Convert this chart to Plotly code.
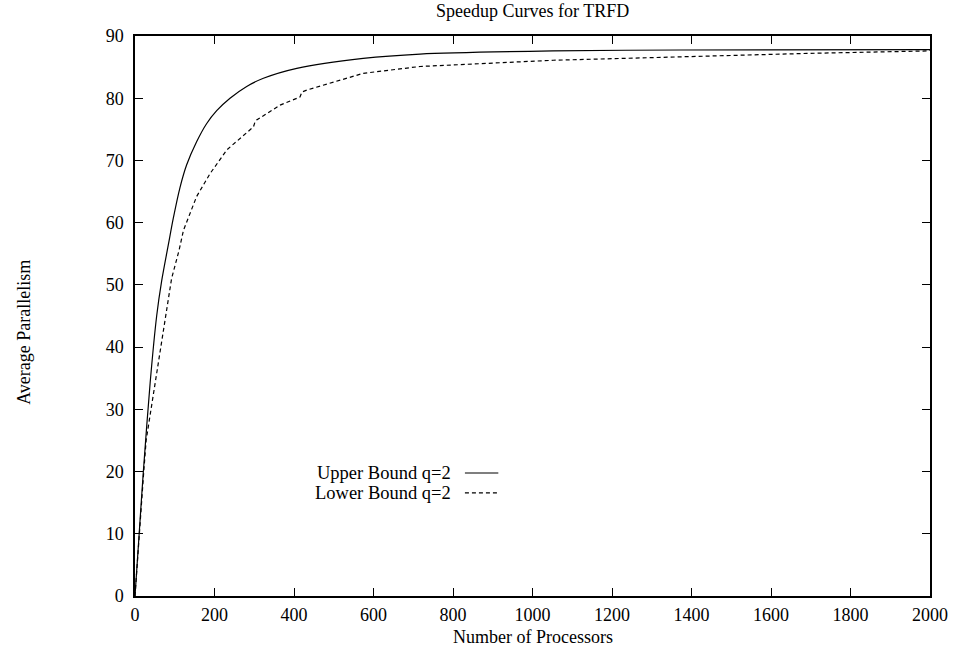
import plotly.graph_objects as go

# Processors vs. average parallelism for the TRFD benchmark
upper_x = [0, 11, 21, 38, 54.5, 67, 84, 96, 113, 130, 155, 180, 205.5, 239, 281, 323, 407, 574, 717,
           1052, 1371, 2000]
upper_y = [0, 10.5, 20, 34.2, 45.0, 50.6, 56.5, 60.6, 65.6, 69.3, 73.0, 75.9, 78.0, 80.0, 81.9, 83.2, 84.8,
           86.4, 87.1, 87.6, 87.75, 87.8]

lower_x = [0, 1, 12, 22, 28, 50, 75, 92, 111, 122, 155, 189, 231, 298, 302, 306, 365, 415, 420, 432,
           574, 717, 1052, 1371, 1690, 1995, 2000]
lower_y = [0, 1, 11, 20, 25, 34.2, 44, 51, 55.6, 58.8, 64.2, 67.9, 71.7, 75.4, 76.2, 76.5, 78.9, 80.2, 81, 81.3,
           84, 85.1, 86.1, 86.7, 87.2, 87.6, 87.7]

x_ticks = list(range(0, 2001, 200))
y_ticks = list(range(0, 91, 10))

FONT = "Liberation Serif, Times New Roman, serif"

fig = go.Figure()
fig.add_trace(go.Scatter(x=upper_x, y=upper_y, mode="lines", name="Upper Bound q=2",
                         line=dict(color="black", width=1.2, shape="spline", smoothing=0.8)))
fig.add_trace(go.Scatter(x=lower_x, y=lower_y, mode="lines", name="Lower Bound q=2",
                         line=dict(color="black", width=1.2, dash="4px,3px")))

axis_common = dict(showgrid=False, zeroline=False, showline=True, linecolor="black", linewidth=1.5,
                   mirror="ticks", ticks="inside", ticklen=8, tickwidth=1.2, tickcolor="black",
                   automargin=False, tickfont=dict(family=FONT, size=18, color="black"))

fig.update_xaxes(range=[0, 2000], tickvals=x_ticks, ticktext=[str(v) for v in x_ticks],
                 ticklabelstandoff=2, **axis_common)
fig.update_yaxes(range=[0, 90], tickvals=y_ticks, ticktext=[str(v) for v in y_ticks],
                 ticklabelstandoff=6, **axis_common)

annotations = [
    dict(text="Speedup Curves for TRFD", x=0.5, y=1, xref="paper", yref="paper",
         xanchor="center", yanchor="bottom", yshift=13, showarrow=False,
         font=dict(family=FONT, size=18, color="black")),
    dict(text="Number of Processors", x=0.5, y=0, xref="paper", yref="paper",
         xanchor="center", yanchor="top", yshift=-29, showarrow=False,
         font=dict(family=FONT, size=18, color="black")),
    dict(text="Average Parallelism", x=0, y=0.47, xref="paper", yref="paper",
         xanchor="center", yanchor="middle", xshift=-111, textangle=-90, showarrow=False,
         font=dict(family=FONT, size=18, color="black")),
]

# gnuplot-style key: right-aligned labels followed by line samples
key_rows = [("Upper Bound q=2", "solid", 0.2196), ("Lower Bound q=2", "4px,3px", 0.184)]
shapes = []
for label, dash, ky in key_rows:
    annotations.append(dict(text=label, x=0.400, y=ky, xref="paper", yref="paper",
                            xanchor="right", yanchor="middle", showarrow=False,
                            font=dict(family=FONT, size=18.5, color="black")))
    shapes.append(dict(type="line", xref="paper", yref="paper", x0=0.415, x1=0.457, y0=ky, y1=ky,
                       line=dict(color="black", width=1.2, dash=dash)))

fig.update_layout(width=953, height=647, margin=dict(l=135, r=23, t=36, b=51),
                  paper_bgcolor="white", plot_bgcolor="white", showlegend=False,
                  annotations=annotations, shapes=shapes,
                  font=dict(family=FONT, size=18, color="black"))

fig.write_html("out.html")
